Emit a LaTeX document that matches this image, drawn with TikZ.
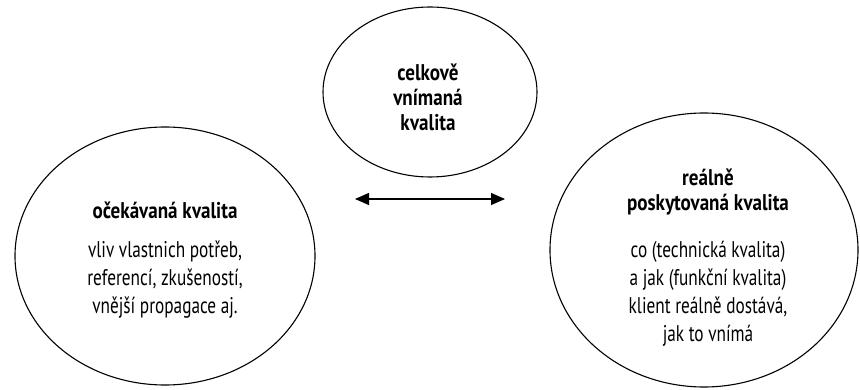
\documentclass[tikz,border=0pt]{standalone}
\usepackage{fontspec}
\setmainfont{PT Sans}[FakeStretch=0.76, BoldFeatures={FakeStretch=0.84}]
\usetikzlibrary{shapes.geometric,arrows.meta}
\begin{document}
\begin{tikzpicture}[x=1pt,y=-1pt,
  oval/.style={draw, line width=1.1pt, ellipse, inner sep=0pt},
  ttl/.style={font=\fontsize{22.7}{25}\selectfont\bfseries, align=center, inner sep=0pt},
  body/.style={font=\fontsize{22.7}{28}\selectfont, align=center, inner sep=0pt},
  dbl/.style={line width=1.3pt, {Triangle[length=14pt,width=12pt]}-{Triangle[length=14pt,width=12pt]}}]
\useasboundingbox (0,0) rectangle (860,390);
\node[oval, minimum width=300pt, minimum height=258pt] (left) at (165,256) {};
\node[oval, minimum width=308pt, minimum height=274pt] (right) at (704,250) {};
\node[oval, minimum width=214pt, minimum height=170pt] (top) at (430,92) {};
\node[ttl] (lt) at (165,210) {očekávaná kvalita};
\node[body, anchor=north] (lb) at (165,241) {vliv vlastnich potřeb,\\referencí, zkušeností,\\vnější propagace aj.};
\node[ttl] (rt) at (708,192.5) {reálně\\poskytovaná kvalita};
\node[body, anchor=north] (rb) at (708,241) {co (technická kvalita)\\a jak (funkční kvalita)\\klient reálně dostává,\\jak to vnímá};
\node[ttl] (tt) at (428,97) {celkově\\vnímaná\\kvalita};
\coordinate (a1) at (355,199);
\coordinate (a2) at (505,199);
\draw[dbl] (a1) -- (a2);
\end{tikzpicture}
\end{document}
